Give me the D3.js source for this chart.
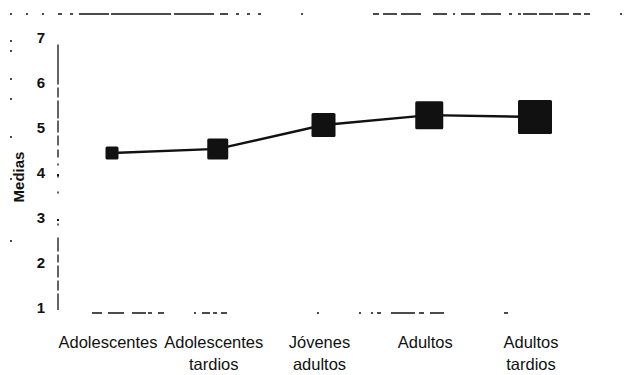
<!DOCTYPE html>
<html>
<head>
<meta charset="utf-8">
<script src="https://cdn.jsdelivr.net/npm/d3@7"></script>
<style>
  html, body { margin: 0; padding: 0; background: #fff; }
  svg { display: block; }
  .cat { font-family: "Liberation Sans", Arial, sans-serif; font-size: 16.5px; fill: #111; }
  .tick-num { font-family: "Liberation Sans", Arial, sans-serif; font-size: 15px; font-weight: bold; fill: #111; }
  .ytitle { font-family: "Liberation Sans", Arial, sans-serif; font-size: 15px; font-weight: bold; fill: #111; }
</style>
</head>
<body>
<svg id="chart" width="637" height="375"></svg>
<script>
// Group labels (each line of a label is its own entry)
const categories = [
  ["Adolescentes"],
  ["Adolescentes", "tardios"],
  ["Jóvenes", "adultos"],
  ["Adultos"],
  ["Adultos", "tardios"]
];
const categoryKeys = ["Adolescentes", "Adolescentes tardios", "Jóvenes adultos", "Adultos", "Adultos tardios"];
// Mean per group
const means = [4.49, 4.58, 5.11, 5.33, 5.29];
// Marker side grows with group
const markerSizes = [13, 21, 24, 28, 34];
const yTicks = [1, 2, 3, 4, 5, 6, 7];
const yTitle = "Medias";

const svg = d3.select("#chart");

const x = d3.scalePoint()
  .domain(categoryKeys)
  .range([112, 535]);

const y = d3.scaleLinear()
  .domain([1, 7])
  .range([310, 40]);

const ink = "#111";

// Frame line across the top (faded, broken)
svg.append("line")
  .attr("x1", 10).attr("x2", 637)
  .attr("y1", 14).attr("y2", 14)
  .attr("stroke", ink).attr("stroke-width", 1.6)
  .attr("stroke-dasharray", "2 14 2 14 2 14 4 8 3 6 30 2 60 3 40 6 8 8 3 8 3 8 3 40 2 70 6 4 14 4 20 12 14 6 2 6 14 6 20 8 3 6 3");

// Faded dots along the left frame edge
svg.append("line")
  .attr("x1", 11).attr("x2", 11)
  .attr("y1", 40).attr("y2", 310)
  .attr("stroke", ink).attr("stroke-width", 1.5)
  .attr("stroke-dasharray", "2 8 2 26 2 18 2 36 2 40 2 60 2 70 2 200");

// Y axis
const yAxis = d3.axisLeft(y).tickValues(yTicks).tickSize(0).tickPadding(0).tickFormat("");
const yg = svg.append("g").attr("transform", "translate(58,0)").call(yAxis);
yg.select(".domain")
  .attr("d", `M0,${y(6.9)}V${y(1)}`)
  .attr("stroke", ink).attr("stroke-width", 1.3)
  .attr("stroke-dasharray", "40 3 10 3 18 2 12 3 10 4 8 6 2 10 2 14 2 30 2 12 14 3 8 3 12 3 10 3 20 200");

// Y tick numbers
svg.append("g").selectAll("text")
  .data(yTicks)
  .join("text")
  .attr("class", "tick-num")
  .attr("x", 45)
  .attr("y", d => y(d) - 2)
  .attr("dy", "0.35em")
  .attr("text-anchor", "end")
  .text(d => d);

// Small tick dots beside the axis
svg.append("g").selectAll("rect")
  .data([4, 3])
  .join("rect")
  .attr("x", 57).attr("y", d => y(d) - 1)
  .attr("width", 2).attr("height", 2)
  .attr("fill", ink);

// X axis baseline (faded, broken)
svg.append("line")
  .attr("x1", 92).attr("x2", 590)
  .attr("y1", 313).attr("y2", 313)
  .attr("stroke", ink).attr("stroke-width", 1.3)
  .attr("stroke-dasharray", "10 6 16 8 14 2 4 6 6 30 2 6 8 3 4 4 6 90 2 40 2 10 2 4 4 10 24 4 5 6 14 60 4 200");

// Y title
svg.append("text")
  .attr("class", "ytitle")
  .attr("transform", "translate(24,177) rotate(-90)")
  .attr("text-anchor", "middle")
  .text(yTitle);

// Category labels
const xl = svg.append("g").selectAll("text")
  .data(categoryKeys.map((k, i) => ({ key: k, lines: categories[i] })))
  .join("text")
  .attr("class", "cat")
  .attr("text-anchor", "middle")
  .attr("y", 348);
xl.selectAll("tspan")
  .data(d => d.lines.map(l => ({ l, key: d.key })))
  .join("tspan")
  .attr("x", d => x(d.key) - 4)
  .attr("dy", (d, i) => i === 0 ? 0 : 22)
  .text(d => d.l);

// Line through the means
const line = d3.line()
  .x((d, i) => x(categoryKeys[i]))
  .y(d => y(d));
svg.append("path")
  .datum(means)
  .attr("d", line)
  .attr("fill", "none")
  .attr("stroke", ink)
  .attr("stroke-width", 2.4);

// Square markers
svg.append("g").selectAll("rect")
  .data(means)
  .join("rect")
  .attr("x", (d, i) => x(categoryKeys[i]) - markerSizes[i] / 2)
  .attr("y", (d, i) => y(d) - markerSizes[i] / 2)
  .attr("width", (d, i) => markerSizes[i])
  .attr("height", (d, i) => markerSizes[i])
  .attr("rx", 1.5)
  .attr("fill", ink);
</script>
</body>
</html>
